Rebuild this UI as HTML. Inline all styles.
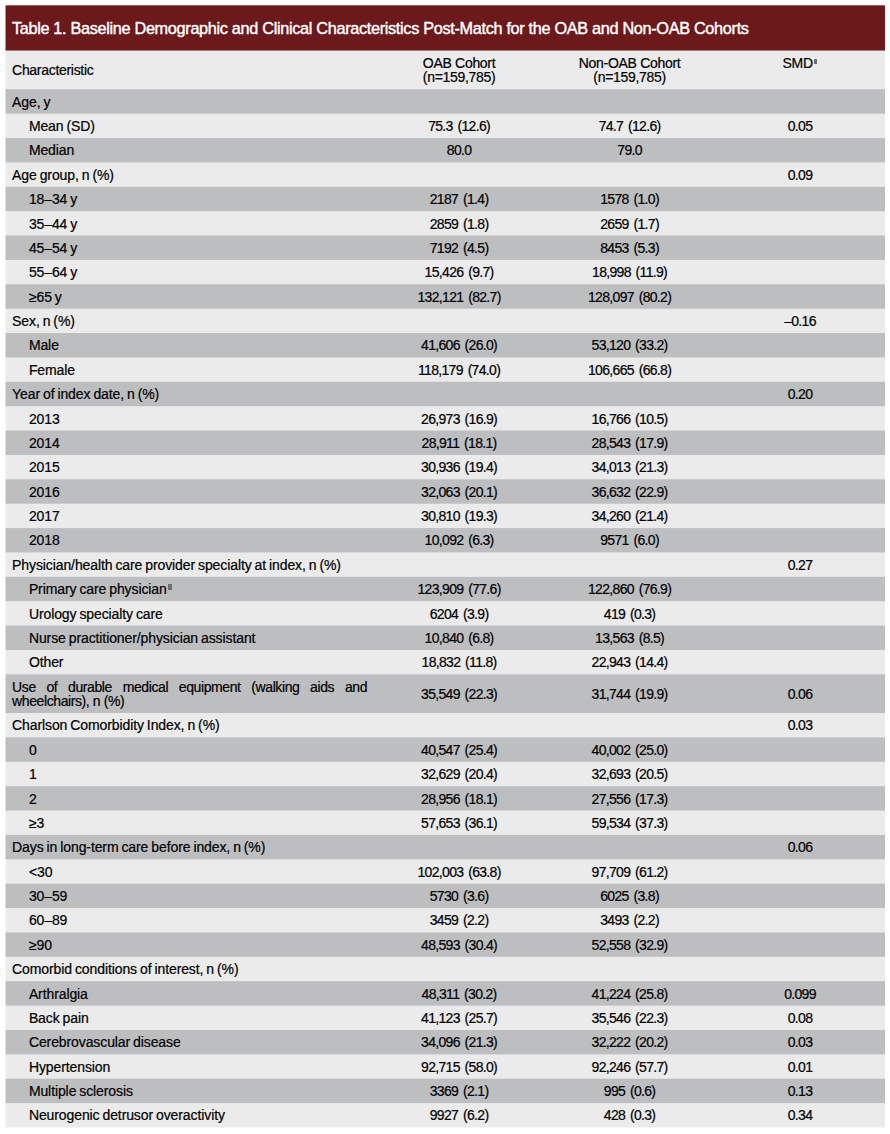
<!DOCTYPE html>
<html><head><meta charset="utf-8">
<style>
html,body{margin:0;padding:0;background:#fff;}
body{width:890px;height:1134px;position:relative;overflow:hidden;font-family:"Liberation Sans",sans-serif;color:#000000;-webkit-text-stroke:0.2px #000000;}
.title{position:absolute;left:5.53px;top:5.33px;width:879.47px;height:45.2px;color:#fff;-webkit-text-stroke:0.4px #fff;font-size:16.3px;letter-spacing:-0.33px;}
.title span{position:absolute;left:6.37px;top:12.87px;line-height:20px;white-space:nowrap;}
.hdr{position:absolute;left:5.53px;top:50.53px;width:879.47px;height:38.730000000000004px;font-size:14px;letter-spacing:-0.3px;}
.bg{position:absolute;left:0;top:0;}
.r{position:absolute;left:5.53px;width:879.47px;font-size:14px;letter-spacing:-0.3px;}
.c{position:absolute;left:6.569999999999999px;top:0.4px;line-height:24.38px;white-space:nowrap;letter-spacing:-0.1px;word-spacing:-0.8px;}
.c.ind{left:23.37px;}
.dbl{position:absolute;left:6.569999999999999px;top:6.0px;width:355px;line-height:14px;text-align:justify;white-space:normal;letter-spacing:-0.4px;}
.v{position:absolute;top:0.4px;line-height:24.38px;white-space:nowrap;text-align:center;width:200px;letter-spacing:-0.68px;word-spacing:1.6px;}
.v1{left:353.57000000000005px;}
.v2{left:524.07px;}
.v3{left:694.47px;}
.dblrow .v{line-height:38.65px;}
.last .c,.last .v{top:-0.6px;}
sup{display:inline-block;width:3.4px;height:6px;background:#6e6e70;vertical-align:baseline;position:relative;margin-left:1.5px;-webkit-text-stroke:0;}
.h1{position:absolute;top:5.37px;width:200px;text-align:center;line-height:14px;}
.hc{position:absolute;left:6.569999999999999px;top:12.37px;line-height:14px;}
</style></head><body>
<svg class="bg" width="890" height="1134" viewBox="0 0 890 1134"><rect x="5.53" y="30" width="879.470" height="1097.490" fill="#ebebeb"/><rect x="5.53" y="89.260" width="879.470" height="24.380" fill="#bdbec0"/><rect x="5.53" y="138.020" width="879.470" height="24.380" fill="#bdbec0"/><rect x="5.53" y="186.780" width="879.470" height="24.380" fill="#bdbec0"/><rect x="5.53" y="235.540" width="879.470" height="24.380" fill="#bdbec0"/><rect x="5.53" y="284.300" width="879.470" height="24.380" fill="#bdbec0"/><rect x="5.53" y="333.060" width="879.470" height="24.380" fill="#bdbec0"/><rect x="5.53" y="381.820" width="879.470" height="24.380" fill="#bdbec0"/><rect x="5.53" y="430.580" width="879.470" height="24.380" fill="#bdbec0"/><rect x="5.53" y="479.340" width="879.470" height="24.380" fill="#bdbec0"/><rect x="5.53" y="528.100" width="879.470" height="24.380" fill="#bdbec0"/><rect x="5.53" y="576.860" width="879.470" height="24.380" fill="#bdbec0"/><rect x="5.53" y="625.620" width="879.470" height="24.380" fill="#bdbec0"/><rect x="5.53" y="674.380" width="879.470" height="38.650" fill="#bdbec0"/><rect x="5.53" y="737.410" width="879.470" height="24.380" fill="#bdbec0"/><rect x="5.53" y="786.170" width="879.470" height="24.380" fill="#bdbec0"/><rect x="5.53" y="834.930" width="879.470" height="24.380" fill="#bdbec0"/><rect x="5.53" y="883.690" width="879.470" height="24.380" fill="#bdbec0"/><rect x="5.53" y="932.450" width="879.470" height="24.380" fill="#bdbec0"/><rect x="5.53" y="981.210" width="879.470" height="24.380" fill="#bdbec0"/><rect x="5.53" y="1029.970" width="879.470" height="24.380" fill="#bdbec0"/><rect x="5.53" y="1078.730" width="879.470" height="24.380" fill="#bdbec0"/><rect x="5.53" y="5.33" width="879.470" height="45.2" fill="#6c191c"/></svg>
<div class="title"><span>Table 1. Baseline Demographic and Clinical Characteristics Post-Match for the OAB and Non-OAB Cohorts</span></div>
<div class="hdr">
<div class="hc">Characteristic</div>
<div class="h1" style="left:353.57000000000005px">OAB Cohort<br>(n=159,785)</div>
<div class="h1" style="left:524.07px">Non-OAB Cohort<br>(n=159,785)</div>
<div class="h1" style="left:694.47px">SMD<sup style="top:-4.3px;height:4.4px;width:3.2px;margin-left:1.6px"></sup></div>
</div>
<div class="r" style="top:89.26px;height:24.38px">
<div class="c">Age, y</div>
</div>
<div class="r" style="top:113.64px;height:24.38px">
<div class="c ind">Mean (SD)</div>
<div class="v v1">75.3 (12.6)</div>
<div class="v v2">74.7 (12.6)</div>
<div class="v v3">0.05</div>
</div>
<div class="r" style="top:138.02px;height:24.38px">
<div class="c ind">Median</div>
<div class="v v1">80.0</div>
<div class="v v2">79.0</div>
</div>
<div class="r" style="top:162.40px;height:24.38px">
<div class="c">Age group, n (%)</div>
<div class="v v3">0.09</div>
</div>
<div class="r" style="top:186.78px;height:24.38px">
<div class="c ind">18–34 y</div>
<div class="v v1">2187 (1.4)</div>
<div class="v v2">1578 (1.0)</div>
</div>
<div class="r" style="top:211.16px;height:24.38px">
<div class="c ind">35–44 y</div>
<div class="v v1">2859 (1.8)</div>
<div class="v v2">2659 (1.7)</div>
</div>
<div class="r" style="top:235.54px;height:24.38px">
<div class="c ind">45–54 y</div>
<div class="v v1">7192 (4.5)</div>
<div class="v v2">8453 (5.3)</div>
</div>
<div class="r" style="top:259.92px;height:24.38px">
<div class="c ind">55–64 y</div>
<div class="v v1">15,426 (9.7)</div>
<div class="v v2">18,998 (11.9)</div>
</div>
<div class="r" style="top:284.30px;height:24.38px">
<div class="c ind">≥65 y</div>
<div class="v v1">132,121 (82.7)</div>
<div class="v v2">128,097 (80.2)</div>
</div>
<div class="r" style="top:308.68px;height:24.38px">
<div class="c">Sex, n (%)</div>
<div class="v v3">–0.16</div>
</div>
<div class="r" style="top:333.06px;height:24.38px">
<div class="c ind">Male</div>
<div class="v v1">41,606 (26.0)</div>
<div class="v v2">53,120 (33.2)</div>
</div>
<div class="r" style="top:357.44px;height:24.38px">
<div class="c ind">Female</div>
<div class="v v1">118,179 (74.0)</div>
<div class="v v2">106,665 (66.8)</div>
</div>
<div class="r" style="top:381.82px;height:24.38px">
<div class="c">Year of index date, n (%)</div>
<div class="v v3">0.20</div>
</div>
<div class="r" style="top:406.20px;height:24.38px">
<div class="c ind">2013</div>
<div class="v v1">26,973 (16.9)</div>
<div class="v v2">16,766 (10.5)</div>
</div>
<div class="r" style="top:430.58px;height:24.38px">
<div class="c ind">2014</div>
<div class="v v1">28,911 (18.1)</div>
<div class="v v2">28,543 (17.9)</div>
</div>
<div class="r" style="top:454.96px;height:24.38px">
<div class="c ind">2015</div>
<div class="v v1">30,936 (19.4)</div>
<div class="v v2">34,013 (21.3)</div>
</div>
<div class="r" style="top:479.34px;height:24.38px">
<div class="c ind">2016</div>
<div class="v v1">32,063 (20.1)</div>
<div class="v v2">36,632 (22.9)</div>
</div>
<div class="r" style="top:503.72px;height:24.38px">
<div class="c ind">2017</div>
<div class="v v1">30,810 (19.3)</div>
<div class="v v2">34,260 (21.4)</div>
</div>
<div class="r" style="top:528.10px;height:24.38px">
<div class="c ind">2018</div>
<div class="v v1">10,092 (6.3)</div>
<div class="v v2">9571 (6.0)</div>
</div>
<div class="r" style="top:552.48px;height:24.38px">
<div class="c">Physician/health care provider specialty at index, n (%)</div>
<div class="v v3">0.27</div>
</div>
<div class="r" style="top:576.86px;height:24.38px">
<div class="c ind">Primary care physician<sup style="top:-4px"></sup></div>
<div class="v v1">123,909 (77.6)</div>
<div class="v v2">122,860 (76.9)</div>
</div>
<div class="r" style="top:601.24px;height:24.38px">
<div class="c ind">Urology specialty care</div>
<div class="v v1">6204 (3.9)</div>
<div class="v v2">419 (0.3)</div>
</div>
<div class="r" style="top:625.62px;height:24.38px">
<div class="c ind">Nurse practitioner/physician assistant</div>
<div class="v v1">10,840 (6.8)</div>
<div class="v v2">13,563 (8.5)</div>
</div>
<div class="r" style="top:650.00px;height:24.38px">
<div class="c ind">Other</div>
<div class="v v1">18,832 (11.8)</div>
<div class="v v2">22,943 (14.4)</div>
</div>
<div class="r dblrow" style="top:674.38px;height:38.65px">
<div class="dbl">Use of durable medical equipment (walking aids and wheelchairs), n (%)</div>
<div class="v v1">35,549 (22.3)</div>
<div class="v v2">31,744 (19.9)</div>
<div class="v v3">0.06</div>
</div>
<div class="r" style="top:713.03px;height:24.38px">
<div class="c">Charlson Comorbidity Index, n (%)</div>
<div class="v v3">0.03</div>
</div>
<div class="r" style="top:737.41px;height:24.38px">
<div class="c ind">0</div>
<div class="v v1">40,547 (25.4)</div>
<div class="v v2">40,002 (25.0)</div>
</div>
<div class="r" style="top:761.79px;height:24.38px">
<div class="c ind">1</div>
<div class="v v1">32,629 (20.4)</div>
<div class="v v2">32,693 (20.5)</div>
</div>
<div class="r" style="top:786.17px;height:24.38px">
<div class="c ind">2</div>
<div class="v v1">28,956 (18.1)</div>
<div class="v v2">27,556 (17.3)</div>
</div>
<div class="r" style="top:810.55px;height:24.38px">
<div class="c ind">≥3</div>
<div class="v v1">57,653 (36.1)</div>
<div class="v v2">59,534 (37.3)</div>
</div>
<div class="r" style="top:834.93px;height:24.38px">
<div class="c">Days in long-term care before index, n (%)</div>
<div class="v v3">0.06</div>
</div>
<div class="r" style="top:859.31px;height:24.38px">
<div class="c ind">&lt;30</div>
<div class="v v1">102,003 (63.8)</div>
<div class="v v2">97,709 (61.2)</div>
</div>
<div class="r" style="top:883.69px;height:24.38px">
<div class="c ind">30–59</div>
<div class="v v1">5730 (3.6)</div>
<div class="v v2">6025 (3.8)</div>
</div>
<div class="r" style="top:908.07px;height:24.38px">
<div class="c ind">60–89</div>
<div class="v v1">3459 (2.2)</div>
<div class="v v2">3493 (2.2)</div>
</div>
<div class="r" style="top:932.45px;height:24.38px">
<div class="c ind">≥90</div>
<div class="v v1">48,593 (30.4)</div>
<div class="v v2">52,558 (32.9)</div>
</div>
<div class="r" style="top:956.83px;height:24.38px">
<div class="c">Comorbid conditions of interest, n (%)</div>
</div>
<div class="r" style="top:981.21px;height:24.38px">
<div class="c ind">Arthralgia</div>
<div class="v v1">48,311 (30.2)</div>
<div class="v v2">41,224 (25.8)</div>
<div class="v v3">0.099</div>
</div>
<div class="r" style="top:1005.59px;height:24.38px">
<div class="c ind">Back pain</div>
<div class="v v1">41,123 (25.7)</div>
<div class="v v2">35,546 (22.3)</div>
<div class="v v3">0.08</div>
</div>
<div class="r" style="top:1029.97px;height:24.38px">
<div class="c ind">Cerebrovascular disease</div>
<div class="v v1">34,096 (21.3)</div>
<div class="v v2">32,222 (20.2)</div>
<div class="v v3">0.03</div>
</div>
<div class="r" style="top:1054.35px;height:24.38px">
<div class="c ind">Hypertension</div>
<div class="v v1">92,715 (58.0)</div>
<div class="v v2">92,246 (57.7)</div>
<div class="v v3">0.01</div>
</div>
<div class="r" style="top:1078.73px;height:24.38px">
<div class="c ind">Multiple sclerosis</div>
<div class="v v1">3369 (2.1)</div>
<div class="v v2">995 (0.6)</div>
<div class="v v3">0.13</div>
</div>
<div class="r last" style="top:1103.11px;height:24.38px">
<div class="c ind">Neurogenic detrusor overactivity</div>
<div class="v v1">9927 (6.2)</div>
<div class="v v2">428 (0.3)</div>
<div class="v v3">0.34</div>
</div>
</body></html>
